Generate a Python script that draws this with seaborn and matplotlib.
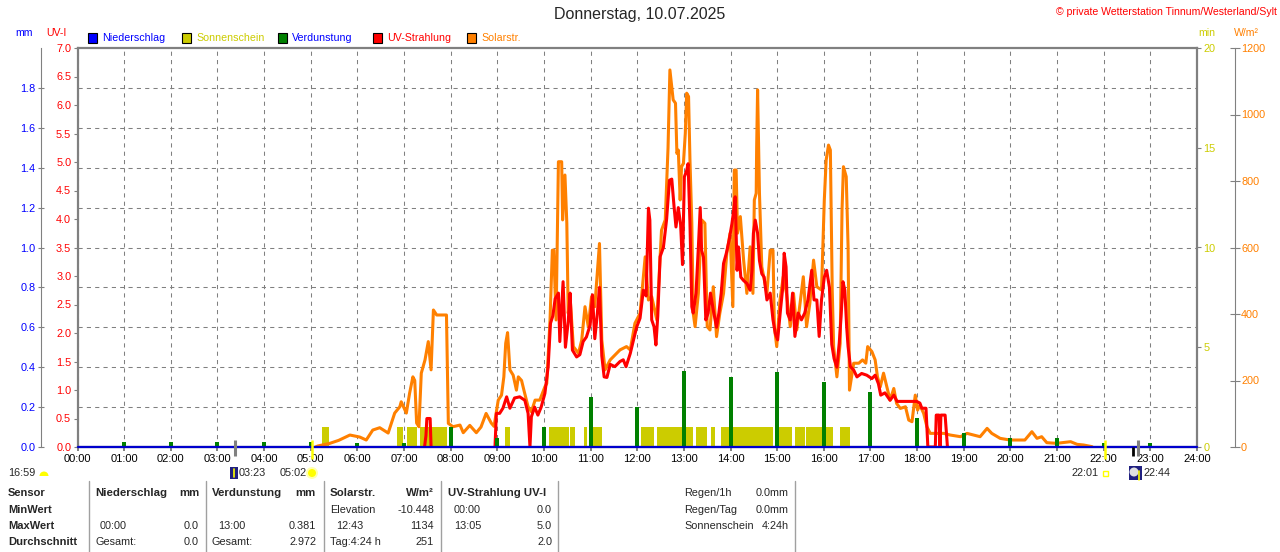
import numpy as np
import matplotlib
matplotlib.use('Agg')
import matplotlib.pyplot as plt
import seaborn as sns
from matplotlib.patches import Rectangle, Wedge, Circle
from matplotlib.lines import Line2D

# values, time in decimal hours
sol_t = [5.10, 5.15, 5.41, 5.60, 5.84, 6.05, 6.19, 6.33, 6.48, 6.66, 6.80, 6.91, 6.94, 7.05,
         7.12, 7.19, 7.23, 7.27, 7.32, 7.37, 7.45, 7.52, 7.58, 7.63, 7.70, 7.91, 7.95, 8.05,
         8.20, 8.27, 8.41, 8.55, 8.65, 8.76, 8.87, 8.93, 9.02, 9.09, 9.14, 9.18, 9.22, 9.27,
         9.34, 9.41, 9.45, 9.52, 9.57, 9.66, 9.73, 9.81, 9.91, 9.98, 10.02, 10.06, 10.13,
         10.18, 10.21, 10.26, 10.31, 10.38, 10.40, 10.45, 10.49, 10.52, 10.56, 10.63, 10.74,
         10.81, 10.88, 10.95, 11.02, 11.09, 11.19, 11.24, 11.31, 11.42, 11.63, 11.77, 11.85,
         11.95, 12.06, 12.17, 12.24, 12.31, 12.42, 12.52, 12.60, 12.66, 12.70, 12.77, 12.82,
         12.85, 12.88, 12.92, 12.95, 12.99, 13.03, 13.06, 13.10, 13.13, 13.17, 13.20, 13.24,
         13.31, 13.38, 13.45, 13.50, 13.56, 13.63, 13.70, 13.77, 13.85, 13.92, 13.99, 14.05,
         14.08, 14.12, 14.15, 14.21, 14.28, 14.35, 14.42, 14.48, 14.51, 14.55, 14.56, 14.58,
         14.62, 14.67, 14.78, 14.85, 14.91, 14.94, 14.99, 15.06, 15.13, 15.20, 15.28, 15.35,
         15.42, 15.49, 15.56, 15.63, 15.70, 15.78, 15.85, 15.95, 16.01, 16.05, 16.10, 16.14,
         16.18, 16.21, 16.28, 16.35, 16.39, 16.42, 16.48, 16.52, 16.55, 16.64, 16.75, 16.83,
         16.90, 16.94, 17.03, 17.10, 17.15, 17.21, 17.28, 17.35, 17.42, 17.50, 17.56, 17.64,
         17.75, 17.82, 17.89, 17.96, 18.01, 18.06, 18.14, 18.21, 18.28, 18.57, 18.71, 18.93,
         19.07, 19.21, 19.35, 19.50, 19.60, 19.78, 19.99, 20.31, 20.46, 20.57, 20.67, 20.78,
         20.99, 21.29, 21.43, 21.57, 21.75]
sol_w = [0, 3, 11, 20, 36, 30, 21, 51, 58, 42, 102, 121, 136, 102,
         162, 211, 200, 72, 61, 222, 262, 317, 232, 412, 397, 397, 71, 61,
         66, 43, 65, 43, 60, 101, 72, 62, 141, 156, 211, 312, 344, 232,
         216, 171, 211, 200, 171, 121, 106, 141, 141, 166, 181, 191, 382,
         592, 592, 382, 858, 858, 683, 818, 673, 402, 452, 302, 282,
         322, 422, 362, 452, 422, 612, 322, 232, 262, 292, 302, 292,
         372, 402, 572, 442, 452, 382, 652, 683, 900, 1134, 1044, 1034,
         883, 893, 743, 843, 853, 943, 1064, 1054, 863, 673, 402, 362,
         462, 683, 673, 362, 352, 482, 332, 402, 462, 582, 643, 422,
         833, 833, 643, 693, 562, 462, 602, 462, 743, 763, 903, 1074,
         763, 542, 462, 592, 592, 362, 302, 442, 512, 462, 362, 462,
         352, 432, 512, 362, 432, 562, 482, 472, 743, 863, 908, 893,
         472, 302, 211, 312, 713, 843, 813, 602, 171, 252, 252, 262,
         252, 302, 287, 262, 211, 181, 222, 181, 141, 176, 131, 116,
         121, 81, 76, 156, 111, 126, 101, 61, 41, 41, 36, 31,
         41, 36, 31, 56, 41, 26, 21, 21, 46, 26, 31, 13,
         11, 16, 8, 6, 1]

uv_t_early = [7.44, 7.47, 7.49, 7.56, 7.58]
uv_early = [0.0, 0.2, 0.5, 0.5, 0.0]

uv_t = [8.95, 8.98, 9.05, 9.12, 9.20, 9.27, 9.37, 9.48, 9.59, 9.66, 9.70, 9.73, 9.80, 9.87,
        9.94, 10.02, 10.09, 10.14, 10.19, 10.24, 10.31, 10.34, 10.41, 10.46, 10.52, 10.56,
        10.61, 10.70, 10.77, 10.84, 10.91, 10.99, 11.04, 11.09, 11.14, 11.19, 11.24, 11.29,
        11.35, 11.42, 11.52, 11.63, 11.70, 11.76, 11.85, 11.92, 11.99, 12.06, 12.13, 12.19,
        12.24, 12.27, 12.31, 12.36, 12.40, 12.44, 12.49, 12.56, 12.63, 12.69, 12.74, 12.79,
        12.83, 12.88, 12.93, 12.97, 13.01, 13.06, 13.09, 13.13, 13.17, 13.20, 13.26, 13.31,
        13.35, 13.38, 13.42, 13.47, 13.52, 13.57, 13.63, 13.70, 13.75, 13.80, 13.85, 13.91,
        13.97, 14.03, 14.06, 14.10, 14.14, 14.17, 14.22, 14.28, 14.35, 14.42, 14.46, 14.49,
        14.53, 14.58, 14.62, 14.67, 14.72, 14.78, 14.85, 14.91, 14.96, 15.01, 15.07, 15.12,
        15.15, 15.19, 15.22, 15.28, 15.33, 15.38, 15.45, 15.52, 15.59, 15.66, 15.74, 15.79,
        15.85, 15.90, 15.95, 16.01, 16.06, 16.12, 16.17, 16.22, 16.28, 16.33, 16.37, 16.41,
        16.45, 16.49, 16.52, 16.57, 16.64, 16.71, 16.81, 16.92, 17.03, 17.10, 17.17, 17.22,
        17.31, 17.42, 17.50, 17.57, 17.99, 18.06, 18.10, 18.19, 18.23, 18.39, 18.41, 18.47,
        18.49, 18.51, 18.60, 18.65]
uv = [0.0, 0.59, 0.59, 0.68, 0.88, 0.68, 0.86, 0.88, 0.82, 0.59, 0.0, 0.53, 0.70, 0.56,
      0.70, 0.94, 1.41, 2.17, 2.30, 2.60, 2.70, 1.85, 2.90, 1.75, 2.20, 2.70,
      1.70, 1.58, 1.62, 1.85, 1.93, 2.14, 2.67, 1.90, 2.30, 2.80, 1.60, 1.23,
      1.22, 1.45, 1.41, 1.50, 1.53, 1.41, 1.64, 1.88, 2.11, 2.26, 2.75, 2.65,
      4.19, 3.98, 2.23, 2.11, 1.79, 2.30, 3.34, 3.50, 4.00, 4.68, 4.70, 4.21,
      3.86, 4.20, 3.90, 3.20, 4.74, 4.85, 4.97, 3.92, 2.46, 2.35, 2.70, 3.50,
      4.20, 3.45, 3.33, 2.23, 2.35, 2.70, 2.40, 2.10, 2.35, 2.70, 3.22, 3.40,
      3.63, 3.92, 4.10, 4.39, 3.10, 3.51, 2.98, 2.92, 2.87, 2.75, 3.10, 3.75,
      3.98, 3.75, 3.27, 3.04, 2.98, 2.58, 2.70, 2.23, 1.99, 1.88, 2.40, 2.80,
      3.40, 3.16, 2.35, 2.23, 2.70, 1.94, 2.35, 2.23, 2.35, 2.58, 3.10, 2.58,
      2.58, 1.94, 2.58, 2.98, 3.10, 2.80, 1.80, 1.55, 1.40, 1.82, 2.29, 2.90,
      2.75, 2.10, 1.76, 1.41, 1.35, 1.23, 1.29, 1.26, 1.20, 1.26, 1.11, 0.91,
      0.95, 0.82, 0.91, 0.80, 0.80, 0.77, 0.68, 0.68, 0.0, 0.0, 0.56, 0.56,
      0.0, 0.56, 0.56, 0.0]

evap_t = [1, 2, 3, 4, 5, 6, 7, 8, 9, 10, 11, 12, 13, 14, 15, 16, 17, 18, 19, 20, 21, 22, 23]
evap_mm = [0.025, 0.025, 0.025, 0.025, 0.025, 0.02, 0.02, 0.10, 0.045, 0.10, 0.25, 0.20,
           0.381, 0.35, 0.376, 0.327, 0.277, 0.145, 0.07, 0.047, 0.047, 0.02, 0.02]

rain_t = [0, 24]
rain_mm = [0.0, 0.0]

sun_start = [5.24, 6.84, 7.06, 7.34, 9.16, 10.11, 10.56, 10.86, 10.99, 11.95, 12.07,
             12.42, 13.27, 13.58, 13.80, 14.96, 15.39, 15.61, 16.34]
sun_end = [5.39, 6.97, 7.27, 7.93, 9.27, 10.53, 10.67, 10.93, 11.24, 12.00, 12.35,
           13.19, 13.49, 13.67, 14.92, 15.31, 15.59, 16.19, 16.57]
sun_min = [1.0, 1.0, 1.0, 1.0, 1.0, 1.0, 1.0, 1.0, 1.0, 1.0, 1.0,
           1.0, 1.0, 1.0, 1.0, 1.0, 1.0, 1.0, 1.0]

sunrise_set = [5.033, 22.017]
moon_marks = [3.383, 22.733]
now_mark = [22.62]

hour_labels = ['%02d:00' % h for h in range(25)]

# colours
ORANGE = '#ff8000'
RED = '#ff0000'
OLIVE = '#cccc00'
GREEN = '#008000'
BLUE = '#0000ff'
GRAY = '#808080'

sns.set_style('white')
plt.rcParams['font.family'] = ['Liberation Sans', 'DejaVu Sans']
plt.rcParams['font.size'] = 7.5


def fx(px):
    return px / 1280


def fy(py):
    return 1 - py / 552


fig = plt.figure(figsize=(12.8, 5.52), dpi=100, facecolor='white')
ax_mm = fig.add_axes([fx(77.5), fy(447), (1197 - 77.5) / 1280, (447 - 48) / 552])
ax_min = ax_mm.twinx()
ax_sol = ax_mm.twinx()
ax_uv = ax_mm.twinx()
ax_ev = ax_mm.twinx()

# sunshine minutes
widths = [e - s for s, e in zip(sun_start, sun_end)]
ax_min.bar(sun_start, sun_min, width=widths, align='edge', color=OLIVE, linewidth=0)

# solar radiation
sns.lineplot(x=sol_t, y=sol_w, ax=ax_sol, color=ORANGE, linewidth=2.2,
             estimator=None, sort=False, legend=False)

# UV index
sns.lineplot(x=uv_t_early, y=uv_early, ax=ax_uv, color=RED, linewidth=2.2,
             estimator=None, sort=False, legend=False)
sns.lineplot(x=uv_t, y=uv, ax=ax_uv, color=RED, linewidth=2.2,
             estimator=None, sort=False, legend=False)

# evaporation + rain
ax_ev.bar(evap_t, evap_mm, width=0.085, color=GREEN, linewidth=0)
sns.lineplot(x=rain_t, y=rain_mm, ax=ax_ev, color='#0000cc', linewidth=1.6,
             estimator=None, legend=False)
ax_ev.lines[-1].set_clip_on(False)

# sun / moon markers around the time axis
tr = ax_ev.get_xaxis_transform()
ax_ev.vlines(moon_marks, -0.022, 0.018, transform=tr, colors=GRAY, linewidth=2.2, clip_on=False)
ax_ev.vlines(now_mark, -0.022, 0.0, transform=tr, colors='black', linewidth=2.0, clip_on=False)
ax_ev.vlines(sunrise_set, -0.03, 0.018, transform=tr, colors='#ffff00', linewidth=1.8, clip_on=False)

# limits
ax_mm.set_xlim(0, 24)
ax_mm.set_ylim(0, 2.0)
ax_ev.set_ylim(0, 2.0)
ax_uv.set_ylim(0, 7.0)
ax_sol.set_ylim(0, 1200)
ax_min.set_ylim(0, 20)

for a in (ax_min, ax_sol, ax_uv, ax_ev):
    a.set_xlabel('')
    a.set_ylabel('')
    for s in a.spines.values():
        s.set_visible(False)
ax_mm.set_xlabel('')
ax_mm.set_ylabel('')

# grid + time axis on the base axes
ax_mm.set_xticks(range(25))
ax_mm.set_xticklabels(hour_labels)
ax_mm.set_yticks(np.arange(0, 1.81, 0.2))
ax_mm.set_yticklabels(['%.1f' % v for v in np.arange(0, 1.81, 0.2)])
ax_mm.grid(True, color=GRAY, linestyle=(0, (4, 4)), linewidth=0.75)
ax_mm.tick_params(axis='x', bottom=True, direction='out', length=3, width=1.4,
                  color=GRAY, labelcolor='black', labelsize=8, pad=2)
ax_mm.tick_params(axis='y', left=True, right=False, direction='inout', length=4.5,
                  width=0.8, color=GRAY, labelcolor=BLUE, labelsize=7.8, pad=1.5)
ax_mm.spines['right'].set_visible(False)
ax_mm.spines['left'].set_position(('outward', 26.5))
ax_mm.spines['left'].set_color(GRAY)
ax_mm.spines['left'].set_linewidth(0.8)
for side in ('top', 'bottom'):
    ax_mm.spines[side].set_color(GRAY)
    ax_mm.spines[side].set_linewidth(1.6)

# UV axis on the left frame
ax_uv.yaxis.set_ticks_position('left')
ax_uv.yaxis.set_label_position('left')
ax_uv.spines['left'].set_visible(True)
ax_uv.spines['left'].set_color(GRAY)
ax_uv.spines['left'].set_linewidth(1.6)
ax_uv.set_yticks(np.arange(0, 7.01, 0.5))
ax_uv.set_yticklabels(['%.1f' % v for v in np.arange(0, 7.01, 0.5)])
ax_uv.tick_params(axis='y', left=True, direction='out', length=3, width=0.8,
                  color=GRAY, labelcolor=RED, labelsize=7.8, pad=1.5)

# sunshine minutes on the right frame
ax_min.spines['right'].set_visible(True)
ax_min.spines['right'].set_color(GRAY)
ax_min.spines['right'].set_linewidth(1.6)
ax_min.set_yticks([0, 5, 10, 15, 20])
ax_min.tick_params(axis='y', right=True, direction='out', length=3, width=0.8,
                   color=GRAY, labelcolor=OLIVE, labelsize=7.8, pad=1.5)

# solar axis further right
ax_sol.spines['right'].set_visible(True)
ax_sol.spines['right'].set_position(('outward', 27))
ax_sol.spines['right'].set_color(GRAY)
ax_sol.spines['right'].set_linewidth(0.8)
ax_sol.set_yticks(range(0, 1201, 200))
ax_sol.tick_params(axis='y', right=True, direction='inout', length=6.5, width=0.8,
                   color=GRAY, labelcolor=ORANGE, labelsize=7.8, pad=1.5)

ax_ev.set_yticks([])
ax_ev.tick_params(axis='y', right=False, labelright=False)

# titles and header labels
fig.text(fx(640), fy(15), 'Donnerstag, 10.07.2025', ha='center', va='center', fontsize=11.5)
fig.text(fx(1277), fy(12), '\u00a9 private Wetterstation Tinnum/Westerland/Sylt',
         ha='right', va='center', color=RED, fontsize=7.6)
fig.text(fx(15), fy(33), 'mm', color=BLUE, va='center', fontsize=7.6)
fig.text(fx(46), fy(33), 'UV-I', color=RED, va='center', fontsize=7.6)
fig.text(fx(1198), fy(33), 'min', color=OLIVE, va='center', fontsize=7.6)
fig.text(fx(1234), fy(33), 'W/m\u00b2', color=ORANGE, va='center', fontsize=7.6)

# legend
legend_items = [(88, '#0000ff', 'Niederschlag', BLUE), (182, OLIVE, 'Sonnenschein', OLIVE),
                (278, GREEN, 'Verdunstung', BLUE), (373, RED, 'UV-Strahlung', RED),
                (467, ORANGE, 'Solarstr.', ORANGE)]
for x0, fc, label, tc in legend_items:
    fig.add_artist(Rectangle((fx(x0), fy(43)), 9 / 1280, 10 / 552, transform=fig.transFigure,
                             facecolor=fc, edgecolor='black', linewidth=0.8))
    fig.text(fx(x0 + 14), fy(38), label, color=tc, va='center', fontsize=7.7)

# sun / moon times below the axis
inch = fig.dpi_scale_trans
fig.text(fx(8), fy(473), '16:59', va='center', fontsize=7.8)
fig.add_artist(Wedge((44 / 100, (552 - 476) / 100), 0.045, 0, 180, transform=inch,
                     facecolor='#ffff00', edgecolor='none'))
fig.add_artist(Rectangle((230 / 100, (552 - 479) / 100), 0.08, 0.12, transform=inch,
                         facecolor='#202080', edgecolor='none'))
fig.add_artist(Line2D([2.34, 2.34], [(552 - 477) / 100, (552 - 469) / 100], transform=inch,
                      color='#ffff00', linewidth=1.2))
fig.text(fx(239), fy(473), '03:23', va='center', fontsize=7.8)
fig.text(fx(280), fy(473), '05:02', va='center', fontsize=7.8)
fig.add_artist(Circle((312 / 100, (552 - 473) / 100), 0.06, transform=inch,
                      facecolor='#ffffb0', edgecolor='none'))
fig.add_artist(Circle((312 / 100, (552 - 473) / 100), 0.04, transform=inch,
                      facecolor='#ffff00', edgecolor='none'))
fig.text(fx(1071), fy(473), '22:01', va='center', fontsize=7.8)
fig.add_artist(Rectangle((1103 / 100, (552 - 476) / 100), 0.05, 0.05, transform=inch,
                         facecolor='none', edgecolor='#ffff00', linewidth=1.0))
fig.add_artist(Rectangle((1129 / 100, (552 - 480) / 100), 0.13, 0.14, transform=inch,
                         facecolor='#202080', edgecolor='none'))
fig.add_artist(Circle((1134 / 100, (552 - 472) / 100), 0.045, transform=inch,
                      facecolor='#e0e0e0', edgecolor='none'))
fig.add_artist(Line2D([11.39, 11.39], [(552 - 480) / 100, (552 - 471) / 100], transform=inch,
                      color='#ffff00', linewidth=1.2))
fig.text(fx(1144), fy(473), '22:44', va='center', fontsize=7.8)

# summary table
rows_y = [493, 510, 526, 542]
for label, y in zip(['Sensor', 'MinWert', 'MaxWert', 'Durchschnitt'], rows_y):
    fig.text(fx(8), fy(y), label, va='center', fontsize=8, fontweight='bold')

for x in [89, 206, 323.5, 441, 558, 795]:
    fig.add_artist(Line2D([fx(x), fx(x)], [fy(481), fy(552)], color='#a0a0a0', linewidth=1.0))

cells = [
    (95, 493, 'Niederschlag', 'left', True), (199, 493, 'mm', 'right', True),
    (100, 526, '00:00', 'left', False), (199, 526, '0.0', 'right', False),
    (95, 542, 'Gesamt:', 'left', False), (199, 542, '0.0', 'right', False),
    (212, 493, 'Verdunstung', 'left', True), (316, 493, 'mm', 'right', True),
    (218, 526, '13:00', 'left', False), (316, 526, '0.381', 'right', False),
    (212, 542, 'Gesamt:', 'left', False), (316, 542, '2.972', 'right', False),
    (330, 493, 'Solarstr.', 'left', True), (434, 493, 'W/m\u00b2', 'right', True),
    (330, 510, 'Elevation', 'left', False), (434, 510, '-10.448', 'right', False),
    (336, 526, '12:43', 'left', False), (434, 526, '1134', 'right', False),
    (330, 542, 'Tag:4:24 h', 'left', False), (434, 542, '251', 'right', False),
    (448, 493, 'UV-Strahlung UV-I', 'left', True),
    (454, 510, '00:00', 'left', False), (552, 510, '0.0', 'right', False),
    (454, 526, '13:05', 'left', False), (552, 526, '5.0', 'right', False),
    (552, 542, '2.0', 'right', False),
    (684, 493, 'Regen/1h', 'left', False), (789, 493, '0.0mm', 'right', False),
    (684, 510, 'Regen/Tag', 'left', False), (789, 510, '0.0mm', 'right', False),
    (684, 526, 'Sonnenschein', 'left', False), (789, 526, '4:24h', 'right', False),
]
for x, y, txt, ha, bold in cells:
    fig.text(fx(x), fy(y), txt, ha=ha, va='center',
             fontsize=8.2 if bold else 7.8, fontweight='bold' if bold else 'normal')

fig.savefig('out.png', dpi=100, facecolor='white')
